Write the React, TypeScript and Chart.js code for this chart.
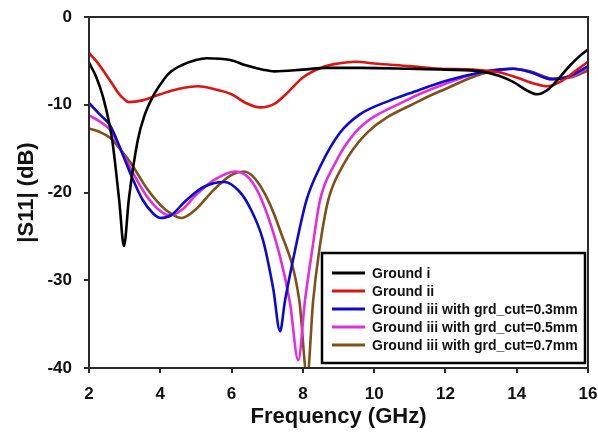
import React, { useEffect, useRef } from "react";
import { Chart, registerables } from "chart.js";

Chart.register(...registerables);

// ---- Data ----
const seriesLabels = [
  "Ground i",
  "Ground ii",
  "Ground iii with grd_cut=0.3mm",
  "Ground iii with grd_cut=0.5mm",
  "Ground iii with grd_cut=0.7mm",
];
const seriesColors = ["#000000", "#dd1414", "#0a0ad2", "#e02ee0", "#7f5018"];

const groundIFreq = [2, 2.2, 2.4, 2.65, 2.85, 2.98, 3.12, 3.37, 3.55, 3.8, 4.05, 4.25, 4.6, 5.0, 5.3, 5.96, 6.4, 6.88, 7.2, 8.0, 8.65, 9.66, 11.0, 12.0, 13.0, 13.5, 13.9, 14.3, 14.57, 14.9, 15.2, 15.5, 15.78, 16.0];
const groundIdB = [-5.2, -6.8, -9.2, -14.0, -21.0, -26.1, -20.7, -14.0, -11.3, -9.0, -7.4, -6.4, -5.5, -4.9, -4.7, -4.9, -5.5, -6.0, -6.2, -6.0, -5.8, -5.8, -5.9, -6.0, -6.2, -6.7, -7.4, -8.4, -8.8, -8.2, -6.9, -5.5, -4.4, -3.7];

const groundIIFreq = [2, 2.2, 2.45, 2.65, 2.81, 2.97, 3.12, 3.5, 4.0, 4.5, 5.06, 5.5, 6.0, 6.4, 6.8, 7.2, 7.6, 8.0, 8.57, 9.0, 9.5, 10.0, 11.0, 11.86, 12.8, 13.5, 14.0, 14.5, 14.85, 15.3, 15.7, 16.0];
const groundIIdB = [-4.1, -5.0, -6.4, -7.6, -8.6, -9.3, -9.7, -9.5, -8.8, -8.2, -7.9, -8.2, -8.8, -9.8, -10.3, -9.9, -8.5, -6.9, -5.7, -5.3, -5.1, -5.3, -5.6, -5.9, -6.0, -6.3, -6.9, -7.6, -7.9, -7.2, -6.0, -5.1];

const cut03Freq = [2, 2.3, 2.6, 2.9, 3.2, 3.5, 3.8, 4.0, 4.3, 4.7, 5.2, 5.8, 6.2, 6.5, 6.88, 7.17, 7.36, 7.5, 7.78, 8.1, 8.48, 9.04, 9.6, 10.45, 11.0, 12.0, 13.0, 13.5, 13.9, 14.4, 15.0, 15.5, 16.0];
const cut03dB = [-9.8, -11.1, -12.4, -15.2, -18.2, -20.8, -22.4, -22.9, -22.6, -21.0, -19.4, -18.8, -19.8, -21.6, -25.4, -31.0, -35.8, -32.3, -26.6, -20.9, -17.1, -13.2, -11.1, -9.5, -8.7, -7.3, -6.3, -6.0, -5.9, -6.3, -7.1, -6.7, -5.6];

const cut05Freq = [2, 2.3, 2.6, 2.9, 3.2, 3.6, 4.0, 4.25, 4.6, 5.0, 5.5, 6.1, 6.5, 6.88, 7.36, 7.64, 7.87, 8.06, 8.26, 8.48, 8.85, 9.46, 10.9, 12.0, 13.0, 13.5, 13.9, 14.4, 15.0, 15.5, 16.0];
const cut05dB = [-11.2, -11.9, -12.9, -15.2, -17.5, -20.3, -22.1, -22.6, -22.0, -20.3, -18.6, -17.6, -18.4, -21.2, -27.3, -32.6, -39.1, -32.3, -26.6, -20.9, -17.1, -13.2, -9.5, -7.6, -6.3, -6.0, -5.9, -6.3, -7.1, -6.8, -5.8];

const cut07Freq = [2, 2.3, 2.6, 2.9, 3.2, 3.6, 4.0, 4.3, 4.6, 5.0, 5.5, 6.0, 6.35, 6.8, 7.36, 7.9, 8.12, 8.29, 8.46, 8.71, 9.1, 9.8, 11.3, 12.0, 13.0, 13.5, 13.9, 14.4, 15.0, 15.5, 16.0];
const cut07dB = [-12.7, -13.1, -13.8, -15.2, -16.8, -19.4, -21.4, -22.4, -22.9, -21.9, -19.7, -18.0, -17.6, -19.2, -24.3, -32.3, -41.0, -32.3, -26.6, -20.9, -17.1, -13.2, -9.5, -8.2, -6.5, -6.1, -5.9, -6.2, -7.0, -6.9, -6.1];

const seriesFreqs = [groundIFreq, groundIIFreq, cut03Freq, cut05Freq, cut07Freq];
const seriesValues = [groundIdB, groundIIdB, cut03dB, cut05dB, cut07dB];

const xMin = 2;
const xMax = 16;
const xStep = 2;
const yMin = -40;
const yMax = 0;
const yStep = 10;

const FONT = "Arial, 'Liberation Sans', Helvetica, sans-serif";

const framePlugin = {
  id: "frameAndLegend",
  afterDraw(chart: any) {
    const { ctx, chartArea } = chart;
    const { left, right, top, bottom } = chartArea;
    ctx.save();
    // frame
    ctx.strokeStyle = "#2a2a2a";
    ctx.lineWidth = 2;
    ctx.strokeRect(left, top, right - left, bottom - top);

    // legend box
    const bx = right - 266;
    const by = bottom - 115;
    const bw = 263;
    const bh = 110;
    ctx.fillStyle = "#ffffff";
    ctx.fillRect(bx, by, bw, bh);
    ctx.strokeStyle = "#000000";
    ctx.lineWidth = 2.5;
    ctx.strokeRect(bx, by, bw, bh);

    ctx.font = `bold 14px ${FONT}`;
    ctx.textBaseline = "middle";
    ctx.textAlign = "left";
    chart.data.datasets.forEach((ds: any, i: number) => {
      const y = by + 20 + i * 18;
      ctx.strokeStyle = ds.borderColor;
      ctx.lineWidth = 3;
      ctx.beginPath();
      ctx.moveTo(bx + 10, y);
      ctx.lineTo(bx + 43, y);
      ctx.stroke();
      ctx.fillStyle = "#111111";
      ctx.fillText(ds.label, bx + 50, y + 1);
    });
    ctx.restore();
  },
};

export default function App() {
  const canvasRef = useRef<HTMLCanvasElement | null>(null);

  useEffect(() => {
    const canvas = canvasRef.current;
    if (!canvas) return;
    const datasets = seriesLabels.map((label, i) => ({
      label,
      data: seriesFreqs[i].map((f, j) => ({ x: f, y: seriesValues[i][j] })),
      borderColor: seriesColors[i],
      backgroundColor: seriesColors[i],
      borderWidth: 2.6,
      pointRadius: 0,
      fill: false,
      cubicInterpolationMode: "monotone" as const,
    }));

    const chart = new Chart(canvas, {
      type: "line",
      data: { datasets },
      options: {
        responsive: false,
        animation: false,
        layout: { padding: { top: 17, right: 10, left: 0, bottom: 0 } },
        plugins: {
          legend: { display: false },
          tooltip: { enabled: false },
        },
        scales: {
          x: {
            type: "linear",
            min: xMin,
            max: xMax,
            ticks: {
              stepSize: xStep,
              color: "#111",
              font: { family: FONT, size: 17, weight: "bold" },
              padding: 11,
              maxRotation: 0,
            },
            grid: {
              display: true,
              drawOnChartArea: false,
              drawTicks: true,
              tickLength: 5,
              color: "#2a2a2a",
              lineWidth: 2,
            },
            border: { display: true, color: "#2a2a2a", width: 2 },
            title: {
              display: true,
              text: "Frequency (GHz)",
              color: "#111",
              font: { family: FONT, size: 22, weight: "bold" },
              padding: { top: 0, bottom: 4 },
            },
            afterFit: (s: any) => {
              s.height = 66;
              s.paddingLeft = 0;
              s.paddingRight = 0;
            },
          },
          y: {
            type: "linear",
            min: yMin,
            max: yMax,
            ticks: {
              stepSize: yStep,
              color: "#111",
              font: { family: FONT, size: 17, weight: "bold" },
              padding: 12,
            },
            grid: {
              display: true,
              drawOnChartArea: false,
              drawTicks: true,
              tickLength: 5,
              color: "#2a2a2a",
              lineWidth: 2,
            },
            border: { display: true, color: "#2a2a2a", width: 2 },
            title: {
              display: true,
              text: "|S11| (dB)",
              color: "#111",
              font: { family: FONT, size: 22, weight: "bold" },
              padding: { top: 14, bottom: 0 },
            },
            afterFit: (s: any) => {
              s.width = 89;
              s.paddingTop = 0;
              s.paddingBottom = 0;
            },
          },
        },
      },
      plugins: [framePlugin],
    });
    return () => chart.destroy();
  }, []);

  return (
    <div style={{ position: "fixed", left: 0, top: 0, width: 598, height: 434, background: "#fff" }}>
      <canvas ref={canvasRef} width={598} height={434} style={{ display: "block" }} />
    </div>
  );
}
